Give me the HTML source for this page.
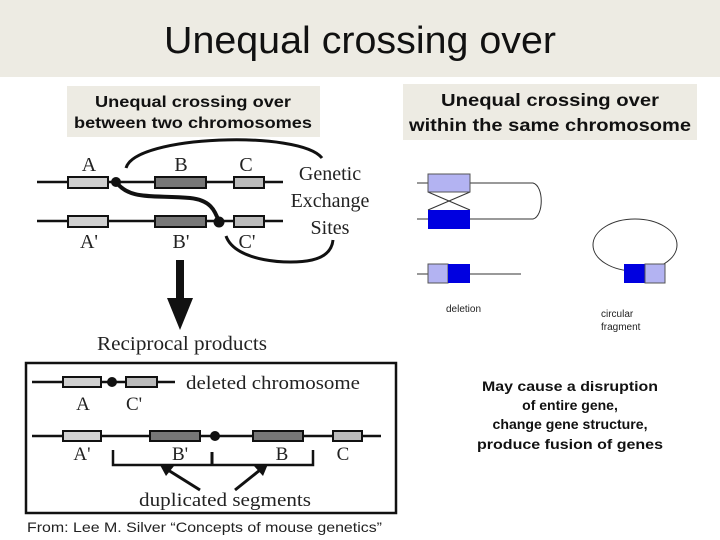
<!DOCTYPE html>
<html><head><meta charset="utf-8"><style>
html,body{margin:0;padding:0;background:#fff}
svg{display:block}
</style></head><body>
<svg width="720" height="540" viewBox="0 0 720 540" xmlns="http://www.w3.org/2000/svg">
<rect x="0" y="0" width="720" height="77" fill="#edebe3"/>
<text x="360" y="53" text-anchor="middle" font-family="Liberation Sans, sans-serif" font-size="38" fill="#111" textLength="392" lengthAdjust="spacingAndGlyphs">Unequal crossing over</text>
<rect x="67" y="86" width="253" height="51" fill="#edebe3"/>
<text x="193" y="107" text-anchor="middle" font-family="Liberation Sans, sans-serif" font-size="16" font-weight="bold" fill="#111" textLength="196" lengthAdjust="spacingAndGlyphs">Unequal crossing over</text>
<text x="193" y="128" text-anchor="middle" font-family="Liberation Sans, sans-serif" font-size="16" font-weight="bold" fill="#111" textLength="238" lengthAdjust="spacingAndGlyphs">between two chromosomes</text>
<rect x="403" y="84" width="294" height="56" fill="#edebe3"/>
<text x="550" y="106" text-anchor="middle" font-family="Liberation Sans, sans-serif" font-size="17.5" font-weight="bold" fill="#111" textLength="218" lengthAdjust="spacingAndGlyphs">Unequal crossing over</text>
<text x="550" y="131" text-anchor="middle" font-family="Liberation Sans, sans-serif" font-size="17.5" font-weight="bold" fill="#111" textLength="282" lengthAdjust="spacingAndGlyphs">within the same chromosome</text>

<g stroke="#111" stroke-width="2.5" fill="none">
<line x1="37" y1="182" x2="283" y2="182"/>
<line x1="37" y1="221" x2="283" y2="221"/>
<path d="M126 168 C135 135 300 130 322 158" stroke-width="3"/>
<path d="M116 182 C130 200 150 195 190 198 C210 200 215 210 219 222" stroke-width="4"/>
<path d="M226 236 C235 262 290 265 312 260 C325 257 332 250 333 240" stroke-width="3"/>
</g>
<g stroke="#111" stroke-width="2">
<rect x="68" y="177" width="40" height="11" fill="#d0d0d0"/>
<rect x="155" y="177" width="51" height="11" fill="#777"/>
<rect x="234" y="177" width="30" height="11" fill="#bbb"/>
<rect x="68" y="216" width="40" height="11" fill="#d0d0d0"/>
<rect x="155" y="216" width="51" height="11" fill="#777"/>
<rect x="234" y="216" width="30" height="11" fill="#bbb"/>
</g>
<circle cx="116" cy="182" r="5" fill="#111"/>
<circle cx="219" cy="222" r="5.5" fill="#111"/>
<g font-family="Liberation Serif, serif" font-size="20" fill="#222" text-anchor="middle">
<text x="89" y="171">A</text><text x="181" y="171">B</text><text x="246" y="171">C</text>
<text x="89" y="248">A'</text><text x="181" y="248">B'</text><text x="247" y="248">C'</text>
<text x="330" y="180">Genetic</text><text x="330" y="207">Exchange</text><text x="330" y="234">Sites</text>
<text x="182" y="350" font-size="20" textLength="170" lengthAdjust="spacingAndGlyphs">Reciprocal products</text>
</g>
<rect x="176" y="260" width="8" height="40" fill="#111"/>
<polygon points="167,298 193,298 180,330" fill="#111"/>

<rect x="26" y="363" width="370" height="150" fill="none" stroke="#111" stroke-width="2.5"/>
<g stroke="#111" stroke-width="2.5" fill="none">
<line x1="32" y1="382" x2="175" y2="382"/>
<line x1="32" y1="436" x2="381" y2="436"/>
<path d="M113 450 V465 H313 V450"/>
<line x1="212" y1="452" x2="212" y2="465" stroke-width="3"/>
<line x1="200" y1="490" x2="168" y2="470" stroke-width="3"/>
<line x1="235" y1="490" x2="260" y2="470" stroke-width="3"/>
</g>
<polygon points="160,465 174,466 166,476" fill="#111"/>
<polygon points="268,464 254,466 263,476" fill="#111"/>
<g stroke="#111" stroke-width="2">
<rect x="63" y="377" width="38" height="10" fill="#d0d0d0"/>
<rect x="126" y="377" width="31" height="10" fill="#bbb"/>
<rect x="63" y="431" width="38" height="10" fill="#d0d0d0"/>
<rect x="150" y="431" width="50" height="10" fill="#777"/>
<rect x="253" y="431" width="50" height="10" fill="#777"/>
<rect x="333" y="431" width="29" height="10" fill="#bbb"/>
</g>
<circle cx="112" cy="382" r="5" fill="#111"/>
<circle cx="215" cy="436" r="5" fill="#111"/>
<g font-family="Liberation Serif, serif" font-size="19" fill="#222" text-anchor="middle">
<text x="273" y="389" textLength="174" lengthAdjust="spacingAndGlyphs">deleted chromosome</text>
<text x="83" y="410">A</text><text x="134" y="410">C'</text>
<text x="82" y="460">A'</text><text x="180" y="460">B'</text><text x="282" y="460">B</text><text x="343" y="460">C</text>
<text x="225" y="506" textLength="172" lengthAdjust="spacingAndGlyphs">duplicated segments</text>
</g>
<text x="27" y="532" font-family="Liberation Sans, sans-serif" font-size="14" fill="#222" textLength="355" lengthAdjust="spacingAndGlyphs">From: Lee M. Silver “Concepts of mouse genetics”</text>

<g stroke="#333" stroke-width="1" fill="none">
<line x1="417" y1="183" x2="428" y2="183"/>
<path d="M470 183 H533 C544 186 544 216 533 219 H470"/>
<line x1="417" y1="219" x2="428" y2="219"/>
<line x1="428" y1="192" x2="470" y2="210"/>
<line x1="470" y1="192" x2="428" y2="210"/>
<line x1="417" y1="274" x2="521" y2="274"/>
<ellipse cx="635" cy="245" rx="42" ry="26"/>
</g>
<rect x="428" y="174" width="42" height="18" fill="#b3b3f2" stroke="#555" stroke-width="1"/>
<rect x="428" y="210" width="42" height="19" fill="#0000e0"/>
<rect x="428" y="264" width="20" height="19" fill="#b3b3f2" stroke="#555" stroke-width="1"/>
<rect x="448" y="264" width="22" height="19" fill="#0000e0"/>
<rect x="624" y="264" width="21" height="19" fill="#0000e0"/>
<rect x="645" y="264" width="20" height="19" fill="#b3b3f2" stroke="#555" stroke-width="1"/>
<g font-family="Liberation Sans, sans-serif" font-size="10" fill="#222">
<text x="446" y="312">deletion</text>
<text x="601" y="317">circular</text><text x="601" y="330">fragment</text>
</g>
<g font-family="Liberation Sans, sans-serif" font-size="14" font-weight="bold" fill="#111" text-anchor="middle">
<text x="570" y="391" textLength="176" lengthAdjust="spacingAndGlyphs">May cause a disruption</text>
<text x="570" y="410">of entire gene,</text>
<text x="570" y="429" textLength="155" lengthAdjust="spacingAndGlyphs">change gene structure,</text>
<text x="570" y="449" textLength="186" lengthAdjust="spacingAndGlyphs">produce fusion of genes</text>
</g>
</svg>
</body></html>
